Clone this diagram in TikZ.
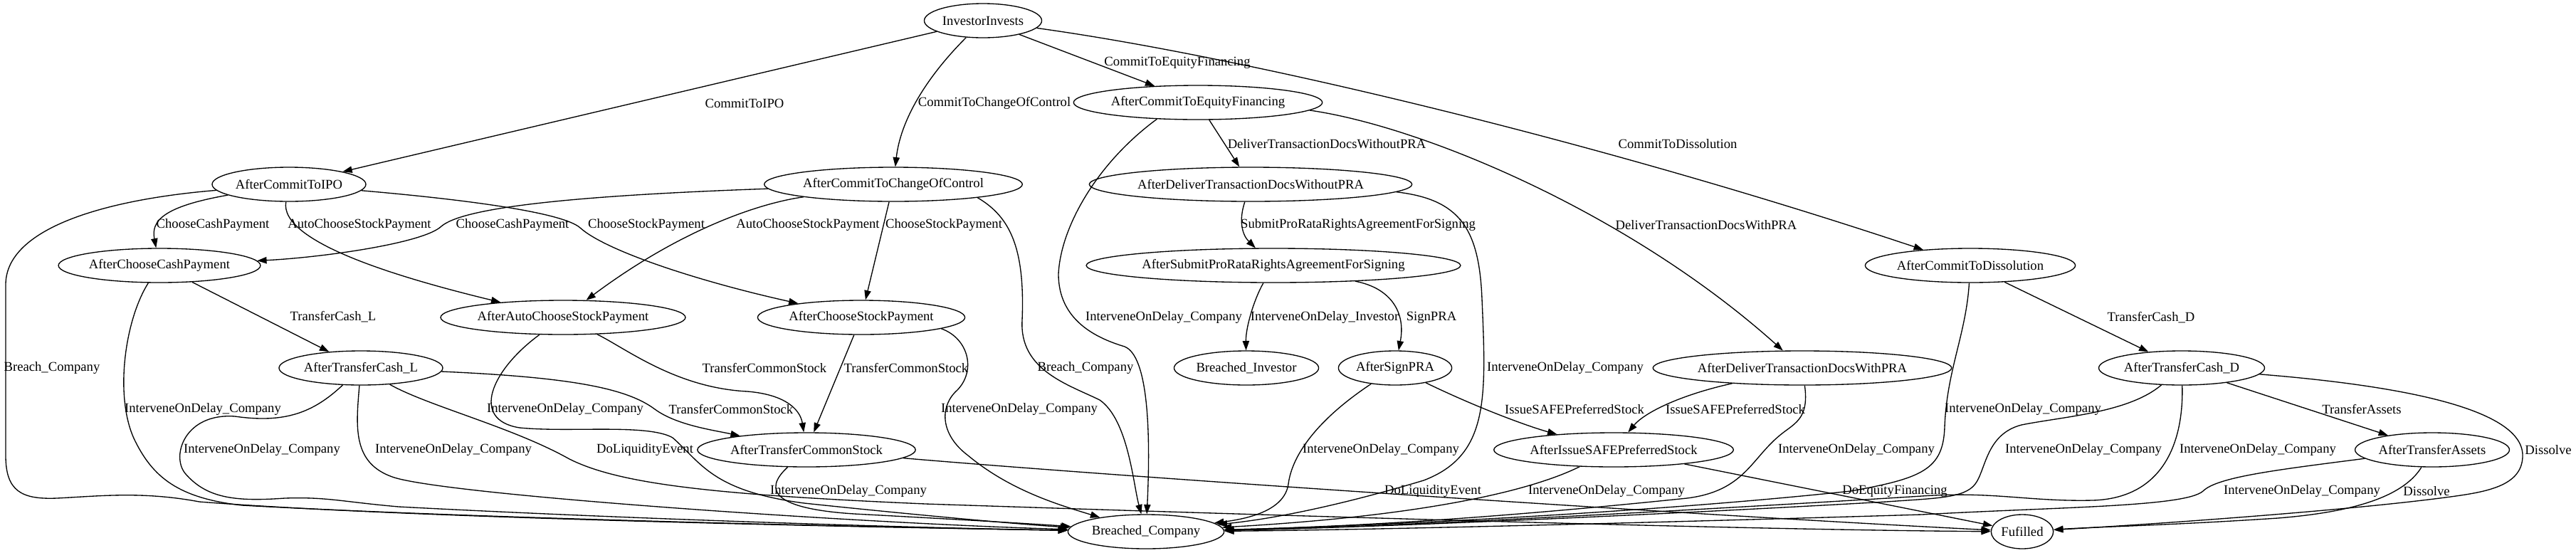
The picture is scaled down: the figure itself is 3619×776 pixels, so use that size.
\documentclass[tikz,border=0pt]{standalone}
\usepackage{fontspec}
\setmainfont{Liberation Serif}
\usetikzlibrary{arrows.meta,shapes.geometric}
\begin{document}
\begin{tikzpicture}[x=0.75pt,y=-0.75pt,
  st/.style={draw, line width=1pt, ellipse, inner xsep=1pt, inner ysep=1pt, minimum height=36pt, minimum width=54pt, font=\fontsize{14pt}{16pt}\selectfont},
  lb/.style={inner sep=0pt, font=\fontsize{14pt}{16pt}\selectfont},
  ed/.style={line width=1pt, -{Triangle[length=10pt,width=7pt]}}]
\useasboundingbox (0,0) rectangle (3619,776);
% nodes
\node[st] (ii) at (1381,29) {InvestorInvests};
\node[st] (ipo) at (406,259) {AfterCommitToIPO};
\node[st] (ccp) at (224,373) {AfterChooseCashPayment};
\node[st] (coc) at (1255,259) {AfterCommitToChangeOfControl};
\node[st] (cef) at (1683,144) {AfterCommitToEquityFinancing};
\node[st] (dwo) at (1757,259) {AfterDeliverTransactionDocsWithoutPRA};
\node[st] (spr) at (1789,373) {AfterSubmitProRataRightsAgreementForSigning};
\node[st] (bi) at (1751,517) {Breached\_Investor};
\node[st] (sig) at (1960,517) {AfterSignPRA};
\node[st] (dwp) at (2532,517) {AfterDeliverTransactionDocsWithPRA};
\node[st] (isp) at (2267,632) {AfterIssueSAFEPreferredStock};
\node[st] (cdi) at (2768,373) {AfterCommitToDissolution};
\node[st] (tcd) at (3065,517) {AfterTransferCash\_D};
\node[st] (ta) at (3417,632) {AfterTransferAssets};
\node[st] (ful) at (2841,747) {Fufilled};
\node[st] (bc) at (1610,747) {Breached\_Company};
\node[st] (acs) at (791,446) {AfterAutoChooseStockPayment};
\node[st] (csp) at (1210,446) {AfterChooseStockPayment};
\node[st] (tcl) at (507,517) {AfterTransferCash\_L};
\node[st] (tcs) at (1133,632) {AfterTransferCommonStock};
% edges from InvestorInvests
\draw[ed] (ii) -- (ipo);
\draw[ed] (ii) .. controls (1300,110) and (1265,170) .. (coc);
\draw[ed] (ii) -- (cef);
\draw[ed] (ii) .. controls (1750,80) and (2250,200) .. (cdi);
% AfterCommitToIPO
\draw[ed] (ipo) .. controls (230,290) and (212,310) .. (ccp);
\draw[ed] (ipo) .. controls (392,340) and (560,390) .. (acs);
\draw[ed] (ipo) .. controls (650,280) and (790,298) .. (815,320) .. controls (850,352) and (980,395) .. (csp);
\draw[ed] (ipo) .. controls (150,280) and (8,320) .. (8,400) -- (8,640) .. controls (8,690) and (30,702) .. (80,700) .. controls (140,697) and (200,690) .. (280,705) .. controls (600,730) and (1300,742) .. (bc);
% AfterCommitToChangeOfControl
\draw[ed] (coc) .. controls (800,275) and (650,292) .. (620,318) .. controls (595,342) and (450,362) .. (ccp);
\draw[ed] (coc) .. controls (1070,285) and (960,320) .. (acs);
\draw[ed] (coc) -- (csp);
\draw[ed] (coc.-9) .. controls (1420,305) and (1440,350) .. (1436,450) .. controls (1432,520) and (1500,540) .. (1545,562) .. controls (1585,590) and (1592,680) .. (bc);
% AfterCommitToEquityFinancing
\draw[ed] (cef) -- (dwo);
\draw[ed] (cef.-4) .. controls (2000,178) and (2290,300) .. (dwp);
\draw[ed] (cef.-158) .. controls (1540,230) and (1490,320) .. (1487,385) .. controls (1487,450) and (1540,475) .. (1580,487) .. controls (1612,500) and (1617,600) .. (bc);
% AfterDeliverTransactionDocsWithoutPRA
\draw[ed] (dwo) .. controls (1740,310) and (1745,330) .. (spr);
\draw[ed] (dwo.-3) .. controls (2050,280) and (2078,320) .. (2082,420) .. controls (2088,560) and (2092,640) .. (2000,675) .. controls (1900,705) and (1800,728) .. (bc);
% AfterSubmitProRata...
\draw[ed] (spr) .. controls (1762,420) and (1750,460) .. (bi);
\draw[ed] (spr) .. controls (1955,405) and (1975,440) .. (sig);
% AfterSignPRA
\draw[ed] (sig) .. controls (1850,590) and (1815,640) .. (1810,680) .. controls (1805,715) and (1760,728) .. (bc);
\draw[ed] (sig) .. controls (2080,575) and (2150,600) .. (isp);
% AfterDeliverTransactionDocsWithPRA
\draw[ed] (dwp) .. controls (2360,555) and (2310,580) .. (isp);
\draw[ed] (dwp) .. controls (2542,590) and (2520,595) .. (2500,612) .. controls (2460,645) and (2450,690) .. (2370,700) .. controls (2100,728) and (1900,740) .. (bc);
% AfterIssueSAFEPreferredStock
\draw[ed] (isp) .. controls (2150,690) and (2000,725) .. (bc);
\draw[ed] (isp) -- (ful);
% AfterCommitToDissolution
\draw[ed] (cdi) -- (tcd);
\draw[ed] (cdi) .. controls (2762,470) and (2735,520) .. (2732,600) .. controls (2730,660) and (2700,672) .. (2600,690) .. controls (2300,722) and (1900,740) .. (bc);
% AfterTransferCash_D
\draw[ed] (tcd) .. controls (2990,580) and (2900,585) .. (2840,597) .. controls (2790,610) and (2790,660) .. (2775,680) .. controls (2760,700) and (2720,700) .. (2650,705) .. controls (2300,725) and (1900,742) .. (bc);
\draw[ed] (tcd) .. controls (3068,620) and (3040,700) .. (2940,703) .. controls (2850,705) and (2800,690) .. (2700,697) .. controls (2300,722) and (1900,742) .. (bc);
\draw[ed] (tcd) -- (ta);
\draw[ed] (tcd) .. controls (3350,540) and (3544,570) .. (3544,640) .. controls (3544,680) and (3500,690) .. (3450,697) .. controls (3300,718) and (3000,738) .. (ful);
% AfterTransferAssets
\draw[ed] (ta) .. controls (3200,660) and (3115,670) .. (3095,690) .. controls (3070,712) and (2900,712) .. (2700,723) .. controls (2300,735) and (1900,745) .. (bc);
\draw[ed] (ta) .. controls (3375,700) and (3300,720) .. (3200,728) .. controls (3050,738) and (2950,740) .. (ful);
% AfterChooseCashPayment
\draw[ed] (ccp) -- (tcl);
\draw[ed] (ccp) .. controls (175,450) and (160,560) .. (190,620) .. controls (215,670) and (250,700) .. (340,710) .. controls (700,730) and (1300,742) .. (bc);
% AfterAutoChooseStockPayment
\draw[ed] (acs) .. controls (880,490) and (950,545) .. (1050,550) .. controls (1110,555) and (1125,580) .. (tcs);
\draw[ed] (acs) .. controls (690,520) and (660,590) .. (730,601) .. controls (800,608) and (910,595) .. (945,615) .. controls (985,650) and (1000,690) .. (1130,707) .. controls (1300,725) and (1450,738) .. (bc);
% AfterTransferCash_L
\draw[ed] (tcl) .. controls (440,580) and (400,595) .. (330,585) .. controls (260,580) and (240,640) .. (260,665) .. controls (290,700) and (330,705) .. (400,700) .. controls (460,698) and (480,705) .. (560,712) .. controls (900,730) and (1300,742) .. (bc);
\draw[ed] (tcl) .. controls (500,600) and (495,650) .. (551,670) .. controls (620,695) and (1200,735) .. (bc);
\draw[ed] (tcl) .. controls (800,530) and (880,545) .. (920,575) .. controls (950,597) and (1000,604) .. (tcs);
\draw[ed] (tcl) .. controls (600,570) and (720,600) .. (800,645) .. controls (870,680) and (1000,695) .. (1300,708) .. controls (1900,728) and (2500,745) .. (ful);
% AfterChooseStockPayment
\draw[ed] (csp) -- (tcs);
\draw[ed] (csp.-8) .. controls (1360,475) and (1372,520) .. (1345,548) .. controls (1320,570) and (1320,610) .. (1360,640) .. controls (1420,690) and (1490,710) .. (bc);
% AfterTransferCommonStock
\draw[ed] (tcs) .. controls (1070,690) and (1090,715) .. (1200,722) .. controls (1350,730) and (1450,736) .. (bc);
\draw[ed] (tcs) .. controls (1600,672) and (2400,725) .. (ful);
% labels
\node[lb] (l1) at (1046,145) {CommitToIPO};
\node[lb] (l2) at (1397,145) {CommitToChangeOfControl};
\node[lb] (l3) at (1654,88) {CommitToEquityFinancing};
\node[lb] (l4) at (2357,202) {CommitToDissolution};
\node[lb] (l5) at (299,316) {ChooseCashPayment};
\node[lb] (l6) at (505,316) {AutoChooseStockPayment};
\node[lb] (l7) at (720,316) {ChooseCashPayment};
\node[lb] (l8) at (908,316) {ChooseStockPayment};
\node[lb] (l9) at (1135,316) {AutoChooseStockPayment};
\node[lb] (l10) at (1326,316) {ChooseStockPayment};
\node[lb] (l11) at (73,517) {Breach\_Company};
\node[lb] (l12) at (1525,517) {Breach\_Company};
\node[lb] (l13) at (1635,446) {InterveneOnDelay\_Company};
\node[lb] (l14) at (1864,202) {DeliverTransactionDocsWithoutPRA};
\node[lb] (l15) at (1908,316) {SubmitProRataRightsAgreementForSigning};
\node[lb] (l16) at (2397,316) {DeliverTransactionDocsWithPRA};
\node[lb] (l17) at (1861,446) {InterveneOnDelay\_Investor};
\node[lb] (l18) at (2011,446) {SignPRA};
\node[lb] (l19) at (2199,517) {InterveneOnDelay\_Company};
\node[lb] (l20) at (2212,575) {IssueSAFEPreferredStock};
\node[lb] (l21) at (2438,575) {IssueSAFEPreferredStock};
\node[lb] (l22) at (1940,632) {InterveneOnDelay\_Company};
\node[lb] (l23) at (2608,632) {InterveneOnDelay\_Company};
\node[lb] (l24) at (2257,690) {InterveneOnDelay\_Company};
\node[lb] (l25) at (2013,690) {DoLiquidityEvent};
\node[lb] (l26) at (2662,690) {DoEquityFinancing};
\node[lb] (l27) at (2842,575) {InterveneOnDelay\_Company};
\node[lb] (l28) at (3022,446) {TransferCash\_D};
\node[lb] (l29) at (2927,632) {InterveneOnDelay\_Company};
\node[lb] (l30) at (3172,632) {InterveneOnDelay\_Company};
\node[lb] (l31) at (3318,575) {TransferAssets};
\node[lb] (l32) at (3580,632) {Dissolve};
\node[lb] (l33) at (3234,690) {InterveneOnDelay\_Company};
\node[lb] (l34) at (3409,690) {Dissolve};
\node[lb] (l35) at (468,445) {TransferCash\_L};
\node[lb] (l36) at (285,575) {InterveneOnDelay\_Company};
\node[lb] (l37) at (368,632) {InterveneOnDelay\_Company};
\node[lb] (l38) at (637,632) {InterveneOnDelay\_Company};
\node[lb] (l39) at (794,575) {InterveneOnDelay\_Company};
\node[lb] (l40) at (906,632) {DoLiquidityEvent};
\node[lb] (l41) at (1074,517) {TransferCommonStock};
\node[lb] (l42) at (1273,517) {TransferCommonStock};
\node[lb] (l43) at (1027,575) {TransferCommonStock};
\node[lb] (l44) at (1432,575) {InterveneOnDelay\_Company};
\node[lb] (l45) at (1192,690) {InterveneOnDelay\_Company};
\end{tikzpicture}
\end{document}
